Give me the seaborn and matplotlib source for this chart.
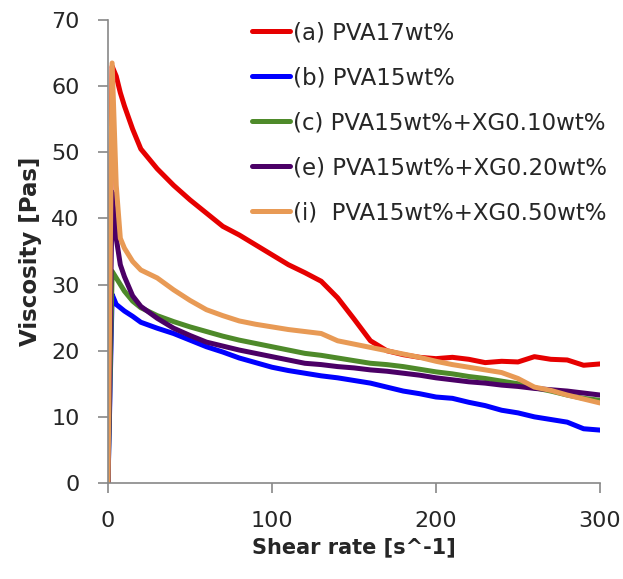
import numpy as np
import pandas as pd
import matplotlib
matplotlib.use('Agg')
import matplotlib.pyplot as plt
import seaborn as sns

# shear rate grid [s^-1]
shear = [0, 2.5, 5, 7.5, 10, 15, 20, 30, 40, 50, 60, 70, 80, 90, 100, 110, 120, 130,
         140, 150, 160, 170, 180, 190, 200, 210, 220, 230, 240, 250, 260, 270, 280, 290, 300]

# viscosity [Pas]
pva17 = [0, 63, 61.5, 59, 57, 53.5, 50.5, 47.5, 45, 42.8, 40.8, 38.8, 37.5, 36, 34.5, 33, 31.8, 30.5,
         28, 24.8, 21.5, 20, 19.4, 19, 18.8, 19, 18.7, 18.2, 18.4, 18.3, 19.1, 18.7, 18.6, 17.8, 18.0]
pva15 = [0, 28.5, 27, 26.5, 26, 25.2, 24.3, 23.4, 22.6, 21.6, 20.6, 19.8, 18.9, 18.2, 17.5, 17, 16.6, 16.2,
         15.9, 15.5, 15.1, 14.5, 13.9, 13.5, 13.0, 12.8, 12.2, 11.7, 11.0, 10.6, 10.0, 9.6, 9.2, 8.2, 8.0]
xg010 = [0, 32, 31, 30, 29, 27.5, 26.5, 25.3, 24.4, 23.6, 22.9, 22.2, 21.6, 21.1, 20.6, 20.1, 19.6, 19.3,
         18.9, 18.5, 18.1, 17.9, 17.6, 17.2, 16.8, 16.5, 16.1, 15.8, 15.4, 15.0, 14.4, 13.9, 13.3, 12.8, 12.5]
xg020 = [0, 44, 37, 33, 31.2, 28.3, 26.7, 24.9, 23.4, 22.3, 21.3, 20.7, 20.1, 19.6, 19.1, 18.6, 18.1, 17.9,
         17.6, 17.4, 17.1, 16.9, 16.6, 16.3, 15.9, 15.6, 15.3, 15.1, 14.8, 14.6, 14.3, 14.1, 13.9, 13.6, 13.3]
xg050 = [0, 63.5, 45, 37, 35.5, 33.5, 32.2, 31, 29.2, 27.6, 26.2, 25.3, 24.5, 24, 23.6, 23.2, 22.9, 22.6,
         21.5, 21, 20.5, 20, 19.5, 19, 18.4, 17.9, 17.5, 17.1, 16.7, 15.8, 14.5, 14, 13.3, 12.7, 12.1]

labels = ['(a) PVA17wt%', '(b) PVA15wt%', '(c) PVA15wt%+XG0.10wt%',
          '(e) PVA15wt%+XG0.20wt%', '(i)  PVA15wt%+XG0.50wt%']
colors = ['#E60000', '#0000FF', '#4E8A2A', '#4B0066', '#E89A55']

frames = []
for lab, vals in zip(labels, [pva17, pva15, xg010, xg020, xg050]):
    frames.append(pd.DataFrame({'shear': shear, 'visc': vals, 'sample': lab}))
df = pd.concat(frames, ignore_index=True)

sns.set_style('ticks')
plt.rcParams['font.family'] = ['DejaVu Sans']

fig = plt.figure(figsize=(6.23, 5.79), dpi=100)
ax = fig.add_axes([0.1734, 0.1658, 0.7897, 0.7997])

sns.lineplot(data=df, x='shear', y='visc', hue='sample', palette=colors,
             linewidth=3.6, ax=ax, legend=True)

ax.set_xlim(0, 300)
ax.set_ylim(0, 70)
ax.set_xticks([0, 100, 200, 300])
ax.set_yticks(range(0, 71, 10))
ax.tick_params(axis='both', which='major', labelsize=16, length=7.5, width=1.2,
               color='#888888', direction='out', bottom=True, left=True)
ax.tick_params(axis='y', pad=13)
ax.tick_params(axis='x', pad=13)
for s in ['top', 'right']:
    ax.spines[s].set_visible(False)
for s in ['left', 'bottom']:
    ax.spines[s].set_color('#888888')
    ax.spines[s].set_linewidth(1.2)

ax.set_xlabel('Shear rate [s^-1]', fontsize=15, fontweight='bold')
ax.set_ylabel('Viscosity [Pas]', fontsize=16.5, fontweight='bold')
ax.xaxis.set_label_coords(0.5, -0.118)
ax.yaxis.set_label_coords(-0.135, 0.5)

ax.legend(frameon=False, loc='upper left', bbox_to_anchor=(0.27, 1.022), fontsize=16.5,
          handlelength=1.66, handletextpad=0.1, labelspacing=0.96, borderpad=0)

fig.savefig('out.png', dpi=100)
